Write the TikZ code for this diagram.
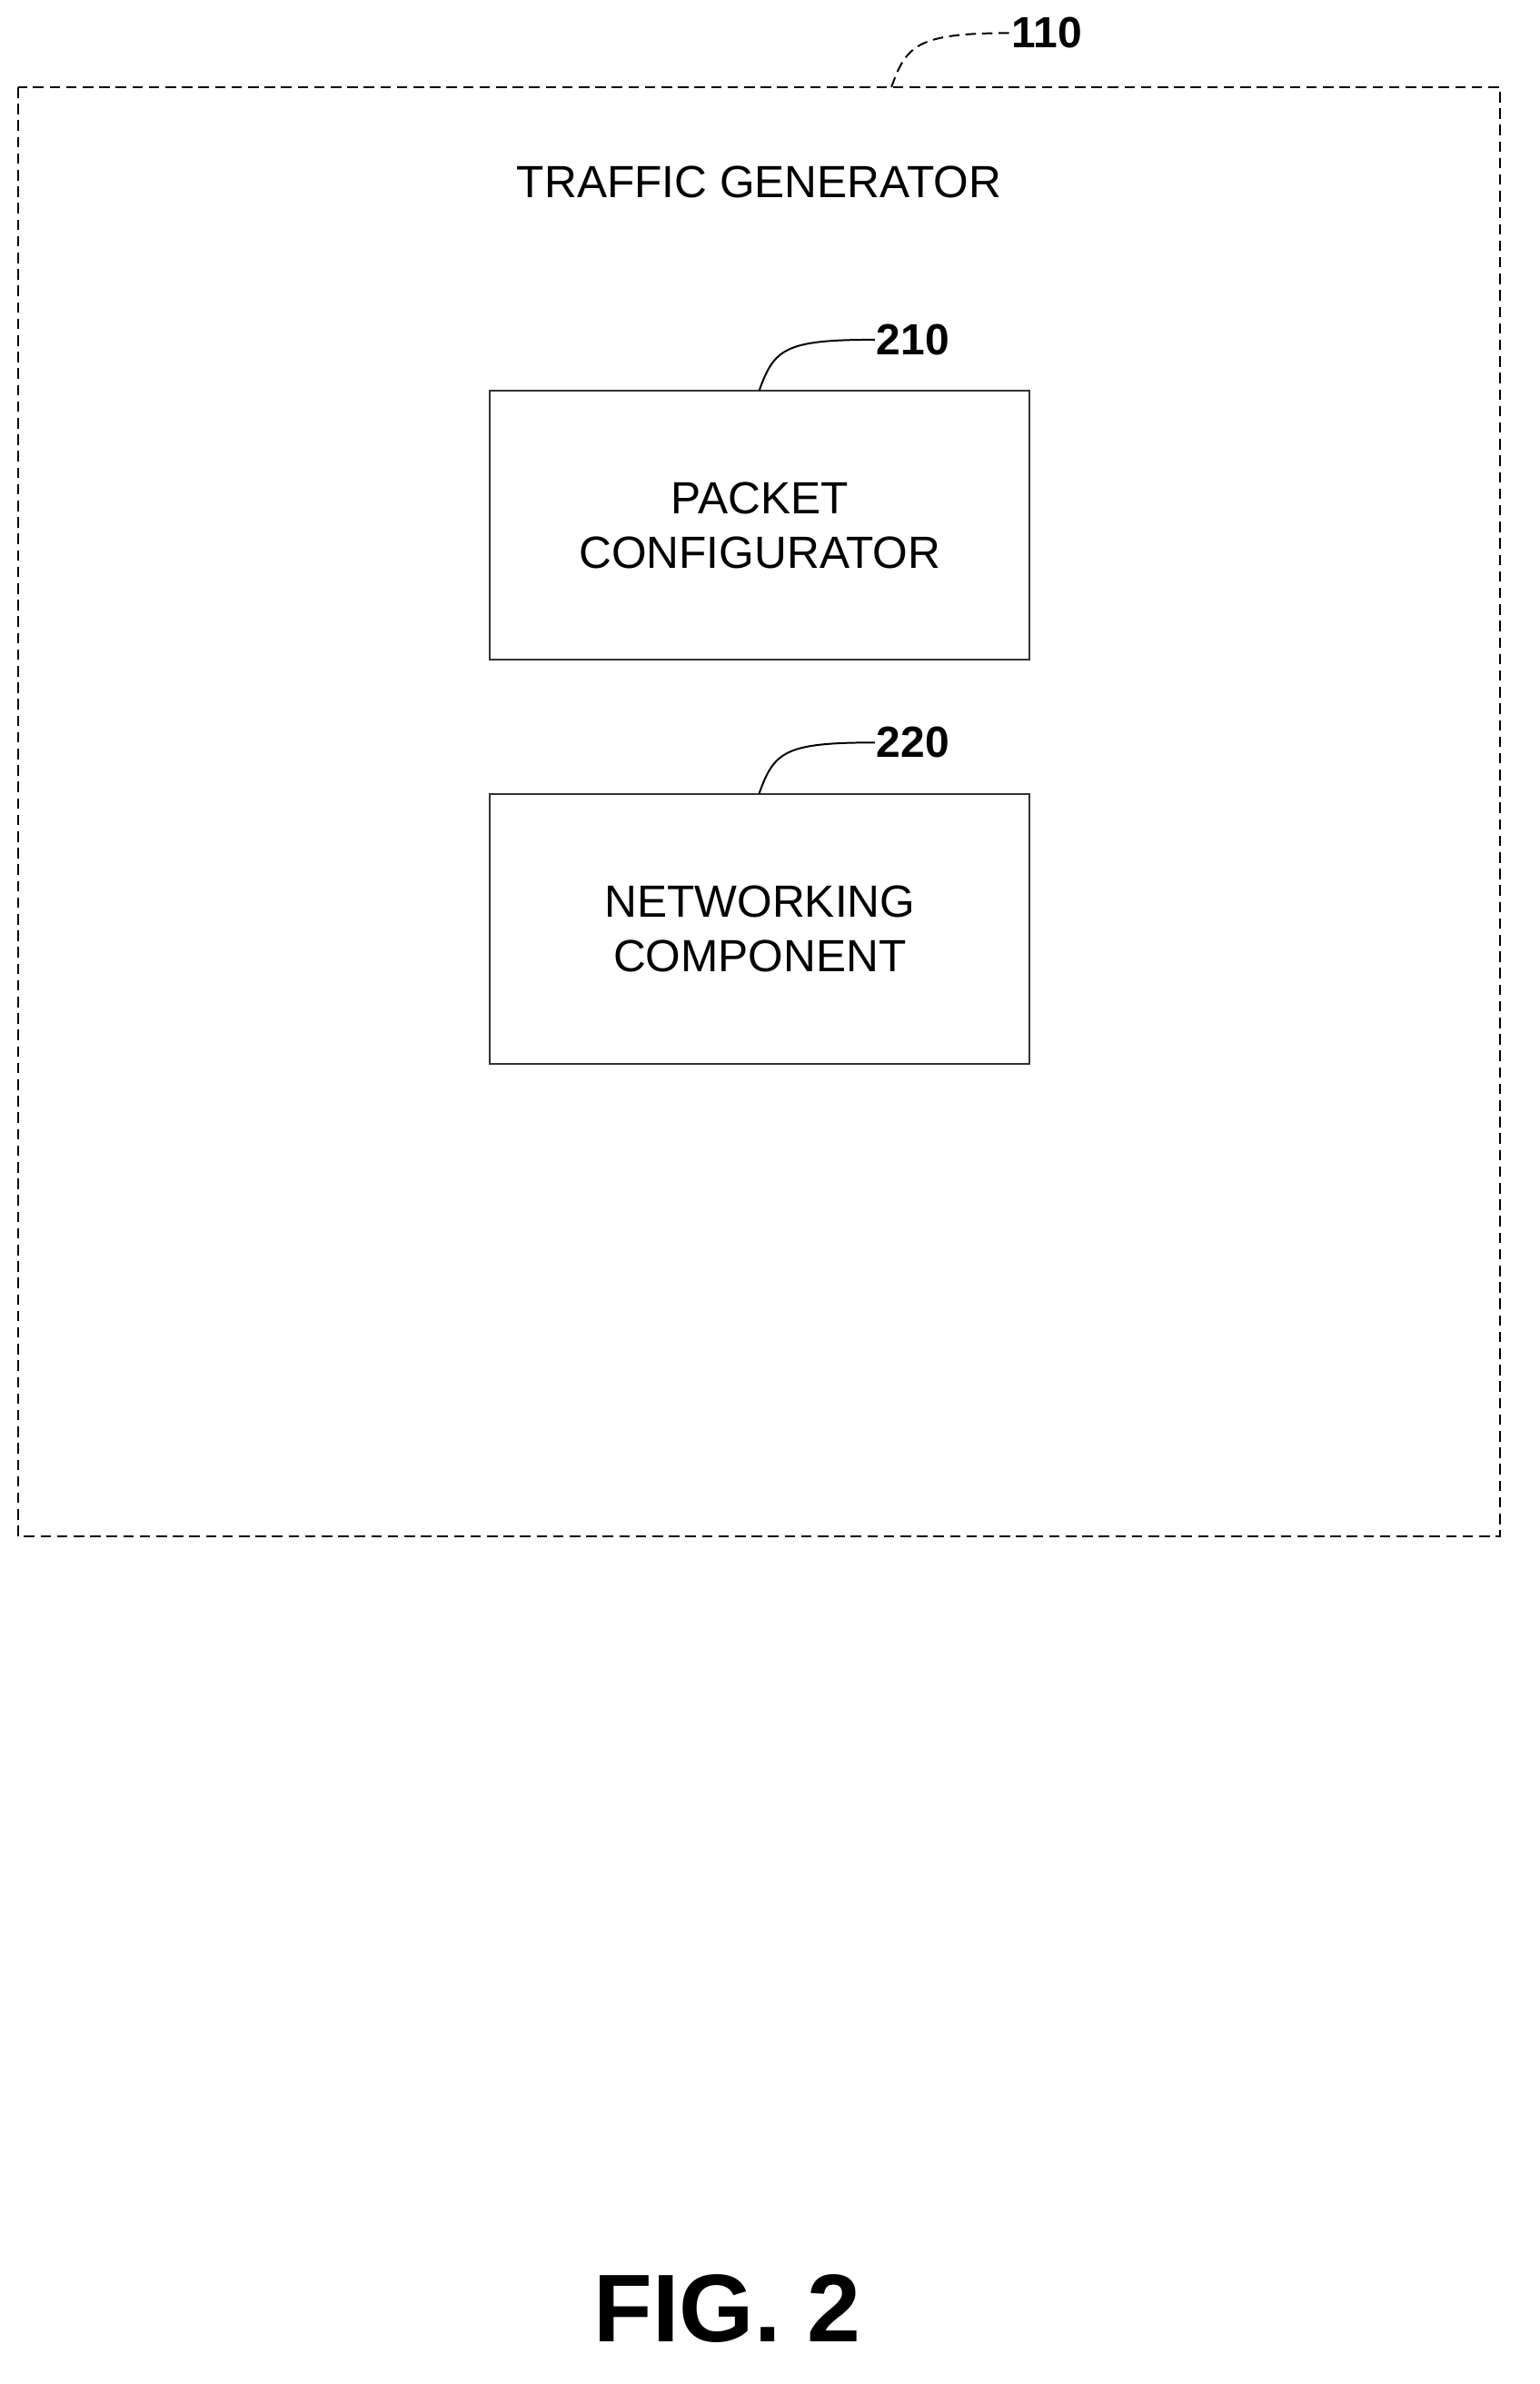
\documentclass[tikz,border=0pt]{standalone}
\usepackage{fontspec}
\setmainfont{Liberation Sans}
\begin{document}
\begin{tikzpicture}[x=1pt,y=-1pt,
  blk/.style={draw=black!80,line width=1.2pt,minimum width=359pt,minimum height=179pt,align=center,font=\fontsize{30}{36}\selectfont,inner sep=0},
  ref/.style={font=\fontsize{29}{32}\selectfont\bfseries,anchor=west,inner sep=1pt},
  lead/.style={line width=1.2pt}]
\useasboundingbox (0,0) rectangle (1024,1586);
\draw[dashed,line width=1.2pt,dash pattern=on 7pt off 4pt] (12,58) rectangle (998,1022);
\node[font=\fontsize{30}{36}\selectfont] (tg) at (505,121) {TRAFFIC GENERATOR};
\node[blk] (b210) at (505.5,349.5) {PACKET\\CONFIGURATOR};
\node[blk] (b220) at (505.5,618) {NETWORKING\\COMPONENT};
\node[ref] (l110) at (672,22) {110};
\node[ref] (l210) at (582,226) {210};
\node[ref] (l220) at (582,494) {220};
\coordinate (c110) at (593,58);
\coordinate (c210) at (505,260);
\coordinate (c220) at (505,528);
\draw[lead,dashed,dash pattern=on 7pt off 4pt] (c110) .. controls (603,30) and (610,22) .. (l110.west);
\draw[lead] (c210) .. controls (515,232) and (522,226) .. (l210.west);
\draw[lead] (c220) .. controls (515,500) and (522,494) .. (l220.west);
\node[font=\fontsize{64}{72}\selectfont\bfseries] (fig) at (484,1536) {FIG. 2};
\end{tikzpicture}
\end{document}
